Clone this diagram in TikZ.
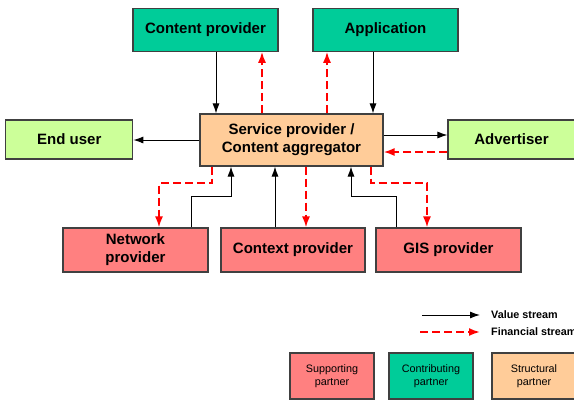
\documentclass[tikz,border=0pt]{standalone}
\usepackage{fontspec}
\setmainfont{Liberation Sans}
\usetikzlibrary{arrows.meta}
\definecolor{contrib}{HTML}{00CC99}
\definecolor{support}{HTML}{FF8080}
\definecolor{struct}{HTML}{FFCC99}
\definecolor{enduser}{HTML}{CCFF99}
\definecolor{frame}{HTML}{404040}
\tikzset{
  box/.style={draw=frame, line width=1.1pt, inner sep=0pt, align=center,
    font=\fontsize{15}{18}\selectfont\bfseries},
  legbox/.style={draw=frame, line width=1.1pt, inner sep=0pt, align=center,
    minimum width=84, minimum height=46, font=\fontsize{10.8}{12.5}\selectfont},
  value/.style={line width=1pt, -{Latex[length=10pt,width=7pt]}},
  fin/.style={red, line width=1.8pt, dash pattern=on 8pt off 4pt,
    -{Latex[length=11pt,width=8pt]}},
}
\begin{document}
\begin{tikzpicture}[x=1pt,y=-1pt]
    \useasboundingbox (0,0) rectangle (574,400);

    \node[box, fill=contrib, minimum width=145, minimum height=43] (cp) at (205.5,29.7) {Content provider};
    \node[box, fill=contrib, minimum width=145, minimum height=43] (app) at (385.5,29.7) {Application};
    \node[box, fill=enduser, minimum width=127, minimum height=39] (eu) at (69.3,139.5) {End user};
    \node[box, fill=struct, minimum width=183, minimum height=52] (sp) at (291.5,140) {Service provider /\\Content aggregator};
    \node[box, fill=enduser, minimum width=127, minimum height=39] (adv) at (511.5,139.5) {Advertiser};
    \node[box, fill=support, minimum width=145, minimum height=44] (net) at (135.5,250) {Network\\provider};
    \node[box, fill=support, minimum width=144, minimum height=44] (ctx) at (293,250) {Context provider};
    \node[box, fill=support, minimum width=145, minimum height=44] (gis) at (448.5,250) {GIS provider};

    % top
    \draw[value] ([xshift=10.5]cp.south) -- ([xshift=10.5]cp.south |- sp.north);
    \draw[fin] ([xshift=-29.5]sp.north) -- ([xshift=-29.5]sp.north |- cp.south);
    \draw[fin] ([xshift=35.5]sp.north) -- ([xshift=35.5]sp.north |- app.south);
    \draw[value] ([xshift=-12.5]app.south) -- ([xshift=-12.5]app.south |- sp.north);

    % sides
    \draw[value] (sp.west) -- (sp.west -| eu.east);
    \draw[value] ([yshift=5]sp.east) -- ([yshift=5]sp.east -| adv.west);
    \draw[fin] ([yshift=-12.5]adv.west) -- ([yshift=-12.5]adv.west -| sp.east);

    % bottom
    \draw[fin] ([xshift=-79.5]sp.south) -- ++(0,16.5) -| ([xshift=23.5]net.north);
    \draw[value] ([xshift=55.5]net.north) -- ++(0,-31) -| ([xshift=-60.5]sp.south);
    \draw[value] ([xshift=-18]ctx.north) -- ([xshift=-18]ctx.north |- sp.south);
    \draw[fin] ([xshift=14.5]sp.south) -- ([xshift=14.5]sp.south |- ctx.north);
    \draw[value] ([xshift=-52.5]gis.north) -- ++(0,-31) -| ([xshift=59.5]sp.south);
    \draw[fin] ([xshift=79.5]sp.south) -- ++(0,16.5) -| ([xshift=-21.5]gis.north);

    % legend
    \coordinate (v1) at (422,315);
    \coordinate (v2) at (480,315);
    \coordinate (f1) at (420,332);
    \coordinate (f2) at (480,332);
    \draw[value] (v1) -- (v2);
    \draw[fin] (f1) -- (f2);
    \node[anchor=west, inner sep=0pt, font=\fontsize{10.8}{12}\selectfont\bfseries] (vlab) at (491,315) {Value stream};
    \node[anchor=west, inner sep=0pt, font=\fontsize{10.8}{12}\selectfont\bfseries] (flab) at (491,332) {Financial stream};

    \node[legbox, fill=support] (sup) at (332,376) {Supporting\\partner};
    \node[legbox, fill=contrib] (con) at (431,376) {Contributing\\partner};
    \node[legbox, fill=struct] (str) at (534,376) {Structural\\partner};
\end{tikzpicture}
\end{document}
